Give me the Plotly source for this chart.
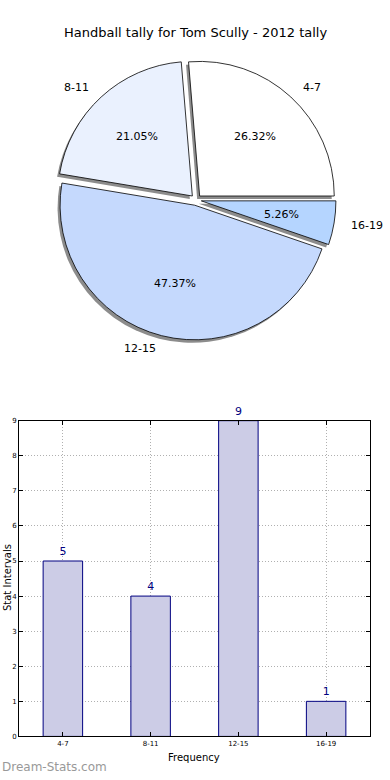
import math
import plotly.graph_objects as go

# ---- data ----
categories = ["4-7", "8-11", "12-15", "16-19"]
counts = [5, 4, 9, 1]
pie_colors = ["#ffffff", "#eaf1fe", "#c5d9fd", "#b5d5ff"]
y_ticks = [0, 1, 2, 3, 4, 5, 6, 7, 8, 9]
title_text = "Handball tally for Tom Scully - 2012 tally"

W, H = 390, 780
FONT = "DejaVu Sans"

total = sum(counts)
# first slice starts at 3 o'clock and runs counterclockwise (matplotlib style);
# plotly's counterclockwise mode puts the first slice clockwise of `rotation`
rotation = 90 - 360 * counts[0] / total

# pie geometry (pixels)
pcx, pcy = 196, 198
R = 136
PULL = 0.04
half = R * (1 + PULL)
pie_domain = dict(x=[(pcx - half) / W, (pcx + half) / W],
                  y=[1 - (pcy + half) / H, 1 - (pcy - half) / H])
sh_dx, sh_dy = -2.5, 3
shadow_domain = dict(x=[(pcx - half + sh_dx) / W, (pcx + half + sh_dx) / W],
                     y=[1 - (pcy + half + sh_dy) / H, 1 - (pcy - half + sh_dy) / H])

fig = go.Figure()

# shadow pie
fig.add_trace(go.Pie(
    labels=categories, values=counts, sort=False, direction="counterclockwise",
    rotation=rotation, pull=[PULL] * len(counts), textinfo="none", hoverinfo="skip",
    marker=dict(colors=["rgba(0,0,0,0.45)"] * len(counts), line=dict(width=0)),
    domain=shadow_domain, showlegend=False,
))
# main pie
fig.add_trace(go.Pie(
    labels=categories, values=counts, sort=False, direction="counterclockwise",
    rotation=rotation, pull=[PULL] * len(counts), textinfo="none",
    marker=dict(colors=pie_colors, line=dict(color="black", width=0.8)),
    domain=pie_domain, showlegend=False,
))

annotations = []
cum = 0
for cat, v in zip(categories, counts):
    frac = v / total
    theta = 2 * math.pi * (cum + frac / 2)
    cum += frac
    c, s = math.cos(theta), math.sin(theta)
    # outer label
    k = 1.1 + PULL
    lx, ly = pcx + R * k * c, pcy - R * k * s
    annotations.append(dict(
        x=lx / W, y=1 - ly / H, xref="paper", yref="paper", text=cat,
        showarrow=False, xanchor="left" if c > 0 else "right", yanchor="middle",
        font=dict(family=FONT, size=11, color="black")))
    # percentage
    k = 0.6 + PULL
    px, py = pcx + R * k * c, pcy - R * k * s
    annotations.append(dict(
        x=px / W, y=1 - py / H, xref="paper", yref="paper",
        text="%.2f%%" % (frac * 100), showarrow=False,
        xanchor="center", yanchor="middle",
        font=dict(family=FONT, size=11, color="black")))

# bar chart
fig.add_trace(go.Bar(
    x=categories, y=counts, width=0.45,
    marker=dict(color="#cccce6", line=dict(color="#000080", width=1)),
    text=[str(v) for v in counts], textposition="outside",
    textfont=dict(family=FONT, size=11, color="#000080"),
    cliponaxis=False, xaxis="x", yaxis="y", showlegend=False,
))

annotations.append(dict(
    x=7 / W, y=1 - 580 / H, xref="paper", yref="paper", text="Stat Intervals",
    textangle=-90, showarrow=False, xanchor="center", yanchor="middle",
    font=dict(family=FONT, size=10, color="black")))
annotations.append(dict(
    x=194 / W, y=1 - 761 / H, xref="paper", yref="paper", text="Frequency",
    showarrow=False, xanchor="center", yanchor="middle",
    font=dict(family=FONT, size=10, color="black")))
annotations.append(dict(
    x=0, y=1 - 771 / H, xref="paper", yref="paper", text="Dream-Stats.com",
    showarrow=False, xanchor="left", yanchor="middle",
    font=dict(family=FONT, size=12, color="#999999")))
annotations.append(dict(
    x=195 / W, y=1 - 29 / H, xref="paper", yref="paper", text=title_text,
    showarrow=False, xanchor="center", yanchor="middle",
    font=dict(family=FONT, size=13, color="black")))

axis_common = dict(
    showline=True, linecolor="black", linewidth=1, mirror="allticks",
    ticks="inside", ticklen=4, tickcolor="black",
    showgrid=True, gridcolor="#b0b0b0", griddash="1px,2px", gridwidth=1,
    zeroline=False, tickfont=dict(family=FONT, size=7, color="black"),
)

fig.update_layout(
    width=W, height=H, margin=dict(l=0, r=0, t=0, b=0),
    paper_bgcolor="white", plot_bgcolor="white",
    annotations=annotations,
    xaxis=dict(domain=[19 / W, 370 / W], range=[-0.5, 3.5], type="category",
               anchor="y", **axis_common),
    yaxis=dict(domain=[1 - 740 / H, 1 - 421 / H], range=[0, 9], tickvals=y_ticks,
               anchor="x", **axis_common),
    bargap=0.55,
)

fig.write_html("out.html", config={"displayModeBar": False},
               post_script="document.body.style.margin='0';document.body.style.overflow='hidden';")
